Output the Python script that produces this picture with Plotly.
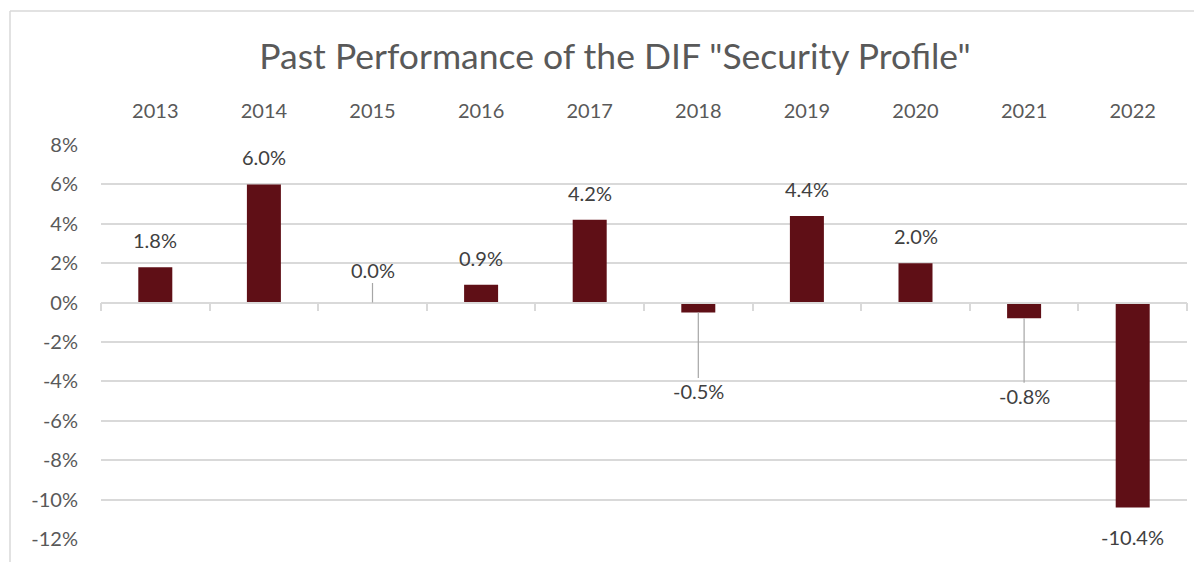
import plotly.graph_objects as go

years = ["2013", "2014", "2015", "2016", "2017", "2018", "2019", "2020", "2021", "2022"]
returns = [1.8, 6.0, 0.0, 0.9, 4.2, -0.5, 4.4, 2.0, -0.8, -10.4]
leader_years = ["2015", "2018", "2021"]
y_ticks = [8, 6, 4, 2, 0, -2, -4, -6, -8, -10, -12]

BAR = "#5f0f16"
GRID = "#d9d9d9"
FONT = "Lato, 'Source Sans Pro', 'Open Sans', sans-serif"

fig = go.Figure()
fig.add_trace(go.Bar(x=years, y=returns, marker=dict(color=BAR, line=dict(width=0)),
                     xaxis="x", yaxis="y", hoverinfo="skip", showlegend=False))
# invisible twin for tick marks along zero line
fig.add_trace(go.Scatter(x=years, y=[0] * len(years), mode="markers",
                         marker=dict(color="rgba(0,0,0,0)", size=1),
                         xaxis="x2", yaxis="y", hoverinfo="skip", showlegend=False))

annotations = []
for i, (yr, v) in enumerate(zip(years, returns)):
    txt = f"{v:.1f}%"
    if yr in leader_years:
        if v >= 0:
            ay = -33
        elif v > -0.6:
            ay = 79
        else:
            ay = 78
        annotations.append(dict(x=i, y=v, xref="x", yref="y", text=txt, showarrow=True,
                                arrowhead=0, arrowwidth=1.2, arrowcolor="#a6a6a6", standoff=0,
                                ax=0, ay=ay, font=dict(size=20, color="#404040", family=FONT)))
    else:
        shift = 27 if v >= 0 else -30
        annotations.append(dict(x=i, y=v, xref="x", yref="y", text=txt, showarrow=False,
                                yshift=shift, font=dict(size=20, color="#404040", family=FONT)))

cat_range = [-0.5, len(years) - 0.5]

fig.update_layout(
    width=1202, height=562,
    margin=dict(l=93, r=23, t=137, b=31, autoexpand=False),
    paper_bgcolor="white", plot_bgcolor="white",
    bargap=0.687,
    font=dict(family=FONT, color="#595959"),
    title=dict(text='Past Performance of the DIF "Security Profile"', x=0.505, xanchor="center",
               y=0.913, yanchor="middle", font=dict(size=35.5, color="#595959", family=FONT)),
    xaxis=dict(side="top", showgrid=False, showline=False, zeroline=False, ticks="",
               tickfont=dict(size=20, color="#595959"), ticklabelstandoff=22, automargin=False,
               type="category", categoryorder="array", categoryarray=years, range=cat_range),
    xaxis2=dict(overlaying="x", anchor="free", position=0.6, side="bottom",
                showticklabels=False, showgrid=False, showline=True, linecolor=GRID, linewidth=1.5,
                ticks="outside", ticklen=8, tickcolor=GRID, tickwidth=1.5, tickson="boundaries",
                type="category", categoryorder="array", categoryarray=years, range=cat_range,
                zeroline=False, automargin=False),
    yaxis=dict(range=[-12, 8], tickvals=y_ticks, ticktext=[f"{t}%" for t in y_ticks],
               showgrid=True, gridcolor=GRID, gridwidth=1.5, zeroline=True, zerolinecolor=GRID,
               zerolinewidth=1.5, showline=False, ticks="", ticklabelstandoff=22, automargin=False,
               tickfont=dict(size=20, color="#595959")),
    annotations=annotations,
    shapes=[dict(type="line", xref="paper", yref="paper", x0=(10 - 101) / 1086, x1=(10 - 101) / 1086,
                 y0=-0.1, y1=(539 - 11) / 394, line=dict(color=GRID, width=1.5)),
            dict(type="line", xref="paper", yref="paper", x0=(10 - 101) / 1086, x1=1.1,
                 y0=(539 - 11) / 394, y1=(539 - 11) / 394, line=dict(color=GRID, width=1.5))],
)

fig.write_html("out.html")
